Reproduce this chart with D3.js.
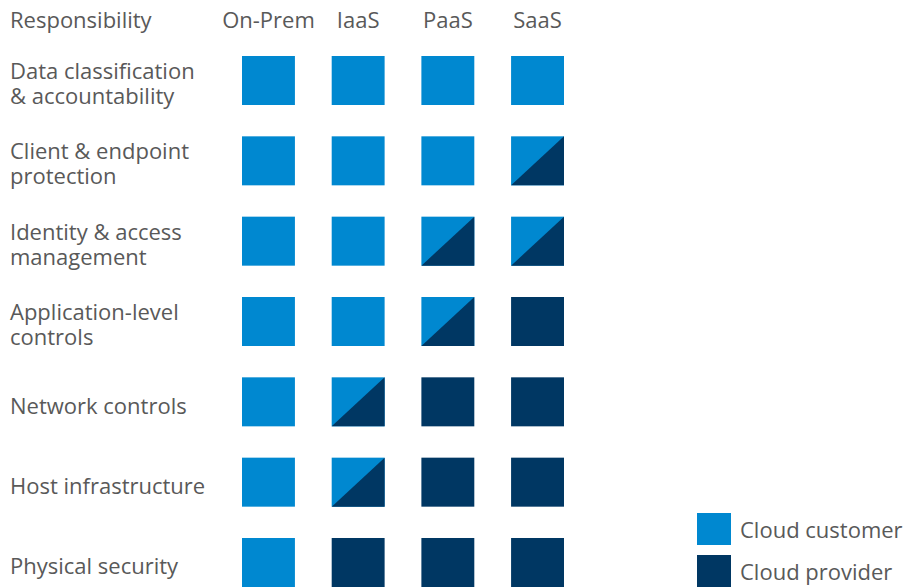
<!DOCTYPE html>
<html>
<head>
<meta charset="utf-8">
<script src="https://cdn.jsdelivr.net/npm/d3@7"></script>
<style>
  body { margin: 0; background: #fff; }
  text { font-family: "Open Sans", sans-serif; fill: #595959; }
</style>
</head>
<body>
<div id="matrix"></div>
<script>
const columns = ['On-Prem', 'IaaS', 'PaaS', 'SaaS']

const rows = [
    ['Data classification', '& accountability'],
    ['Client & endpoint', 'protection'],
    ['Identity & access', 'management'],
    ['Application-level', 'controls'],
    ['Network controls'],
    ['Host infrastructure'],
    ['Physical security']
]

// C = cloud customer, P = cloud provider, S = shared
const cells = [
    ['C', 'C', 'C', 'C'],
    ['C', 'C', 'C', 'S'],
    ['C', 'C', 'S', 'S'],
    ['C', 'C', 'S', 'P'],
    ['C', 'S', 'P', 'P'],
    ['C', 'S', 'P', 'P'],
    ['C', 'P', 'P', 'P']
]

const legendLabels = ['Cloud customer', 'Cloud provider']

const customerColor = '#0088d0'
const providerColor = '#003763'

function DrawMatrix() {
    var width = 904, height = 587;

    var svg = d3.select('#matrix')
        .append('svg')
        .attr('width', width)
        .attr('height', height);

    var xScale = d3.scaleBand().domain(columns).range([242, 564]).paddingInner(0.41);
    var yScale = d3.scaleBand().domain(d3.range(rows.length)).range([56, 587]).paddingInner(0.39);

    // header
    svg.append('text')
        .attr('x', 10)
        .attr('y', 28)
        .attr('font-size', '22px')
        .text('Responsibility');

    svg.selectAll('.col-label')
        .data(columns)
        .enter()
        .append('text')
        .attr('x', function (d) { return xScale(d) + xScale.bandwidth() / 2 })
        .attr('y', 28)
        .attr('text-anchor', 'middle')
        .attr('font-size', '22px')
        .text(function (d) { return d; });

    // row labels
    var labels = svg.selectAll('.row-label')
        .data(rows)
        .enter()
        .append('text')
        .attr('font-size', '22px')
        .attr('y', function (d, i) {
            var c = yScale(i) + yScale.bandwidth() / 2;
            return d.length == 1 ? c + 12 : c - 1.5;
        });

    labels.selectAll('tspan')
        .data(function (d) { return d; })
        .enter()
        .append('tspan')
        .attr('x', 10)
        .attr('dy', function (d, i) { return i == 0 ? 0 : 25 })
        .text(function (d) { return d; });

    // cells
    var flat = [];
    cells.forEach(function (r, i) {
        r.forEach(function (v, j) {
            flat.push({ row: i, col: columns[j], value: v });
        });
    });

    var bw = xScale.bandwidth(), bh = yScale.bandwidth();

    var g = svg.selectAll('.cell')
        .data(flat)
        .enter()
        .append('g')
        .attr('transform', function (d) {
            return 'translate(' + xScale(d.col) + ',' + yScale(d.row) + ')';
        });

    g.append('rect')
        .attr('width', bw)
        .attr('height', bh)
        .attr('fill', function (d) {
            return d.value == 'P' ? providerColor : customerColor;
        });

    // shared: lower-right half is the provider
    g.filter(function (d) { return d.value == 'S' })
        .append('path')
        .attr('d', 'M0,' + bh + 'L' + bw + ',0L' + bw + ',' + bh + 'Z')
        .attr('fill', providerColor);

    // legend
    var legend = svg.selectAll('.legend')
        .data(legendLabels)
        .enter()
        .append('g')
        .attr('transform', function (d, i) { return 'translate(697,' + (513 + i * 42) + ')' });

    legend.append('rect')
        .attr('width', 34)
        .attr('height', 32)
        .attr('fill', function (d, i) { return i == 0 ? customerColor : providerColor });

    legend.append('text')
        .attr('x', 43)
        .attr('y', 25)
        .attr('font-size', '22px')
        .text(function (d) { return d; });
}

DrawMatrix();
</script>
</body>
</html>
